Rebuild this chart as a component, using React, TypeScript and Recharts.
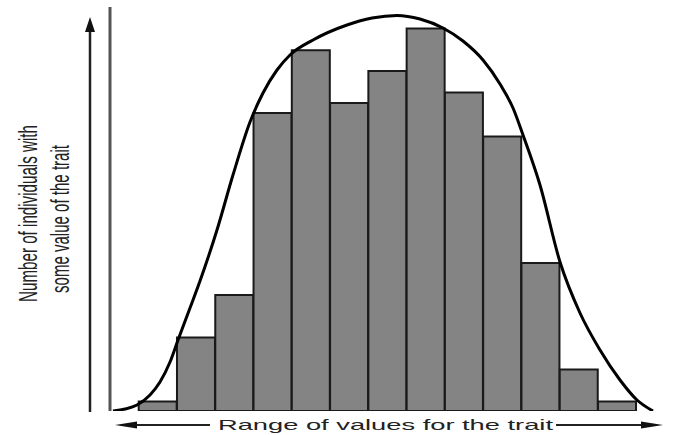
import React from 'react';
import { ComposedChart, Bar, Line, XAxis, YAxis, ReferenceLine } from 'recharts';

// Histogram bins (centres, in bin units) and the number of individuals per bin
const binCenters = [0.5, 1.5, 2.5, 3.5, 4.5, 5.5, 6.5, 7.5, 8.5, 9.5, 10.5, 11.5, 12.5];
const binCounts = [2.4, 18.4, 29, 74.5, 90.2, 77, 85, 95.6, 79.6, 68.6, 37, 10.4, 2.4];

// Hand-drawn bell curve
const curveX = [-0.672, -0.358, -0.045, 0.295, 0.556, 0.818, 1.027, 1.34, 1.601, 2.045, 2.463, 2.908, 3.247, 3.613, 3.953, 4.554, 5.442, 6.095, 6.748, 7.349, 7.95, 8.472, 8.995, 9.439, 9.779, 10.04, 10.484, 11.007, 11.529, 12.052, 12.574, 13.018, 13.436];
const curveY = [0, 0.5, 1.5, 4, 7.25, 12.25, 17.75, 25.75, 32.5, 45.25, 59, 72.25, 79.5, 85.25, 89, 92.75, 96.5, 98.25, 98.9, 98, 95.75, 92.5, 87.75, 81.75, 75.75, 69, 56.5, 37.25, 24.5, 15.25, 7.75, 2.75, 0];

const xLabel = 'Range of values for the trait';
const yLabelLines = ['Number of individuals with', 'some value of the trait'];

const xDomain: [number, number] = [-0.75, 13.75];
const barData = binCenters.map((x, i) => ({ x, count: binCounts[i] }));
const curveData = curveX.map((x, i) => ({ x, fit: curveY[i] }));

const FONT = '"Liberation Sans Narrow", "Liberation Sans", Arial, sans-serif';

export default function App() {
  return (
    <div style={{ position: 'absolute', left: 0, top: 0, width: 675, height: 435, background: '#fff' }}>
      <ComposedChart
        width={675}
        height={435}
        data={barData}
        margin={{ top: 7, right: 10, bottom: 24, left: 110 }}
      >
        <XAxis
          xAxisId="bins"
          type="number"
          dataKey="x"
          domain={xDomain}
          ticks={binCenters}
          tick={false}
          tickLine={false}
          axisLine={{ stroke: '#444', strokeWidth: 2 }}
          height={0}
          allowDataOverflow
        />
        <XAxis xAxisId="curve" type="number" dataKey="x" domain={xDomain} hide allowDataOverflow />
        <YAxis type="number" domain={[0, 101]} hide allowDataOverflow />
        <ReferenceLine xAxisId="bins" x={xDomain[0]} stroke="#555" strokeWidth={3} />
        <Bar
          xAxisId="bins"
          dataKey="count"
          barSize={38}
          fill="#848484"
          stroke="#1a1a1a"
          strokeWidth={2}
          isAnimationActive={false}
        />
        <Line
          xAxisId="curve"
          data={curveData}
          dataKey="fit"
          type="monotone"
          stroke="#000"
          strokeWidth={3}
          dot={false}
          activeDot={false}
          isAnimationActive={false}
        />
      </ComposedChart>
      <svg
        width={675}
        height={435}
        style={{ position: 'absolute', left: 0, top: 0, pointerEvents: 'none' }}
      >
        {/* vertical arrow */}
        <line x1={90} y1={30} x2={90} y2={412} stroke="#222" strokeWidth={2.5} />
        <polygon points="90,17 85,32 95,32" fill="#111" />
        {/* horizontal arrows */}
        <line x1={130} y1={425} x2={210} y2={425} stroke="#222" strokeWidth={2} />
        <polygon points="115,425 137,421.5 137,428.5" fill="#111" />
        <line x1={556} y1={425} x2={648} y2={425} stroke="#222" strokeWidth={2} />
        <polygon points="663,425 641,421.5 641,428.5" fill="#111" />
        <text
          x={385.5}
          y={430}
          textAnchor="middle"
          fontSize={15}
          fontFamily='"Liberation Sans", Arial, sans-serif'
          fill="#222"
          textLength={335}
          lengthAdjust="spacingAndGlyphs"
        >
          {xLabel}
        </text>
        <text
          x={37}
          y={213.5}
          transform="rotate(-90 37 213.5)"
          textAnchor="middle"
          fontSize={26}
          fontFamily={FONT}
          fill="#222"
          textLength={177}
          lengthAdjust="spacingAndGlyphs"
        >
          {yLabelLines[0]}
        </text>
        <text
          x={69}
          y={219}
          transform="rotate(-90 69 219)"
          textAnchor="middle"
          fontSize={26}
          fontFamily={FONT}
          fill="#222"
          textLength={148}
          lengthAdjust="spacingAndGlyphs"
        >
          {yLabelLines[1]}
        </text>
      </svg>
    </div>
  );
}
